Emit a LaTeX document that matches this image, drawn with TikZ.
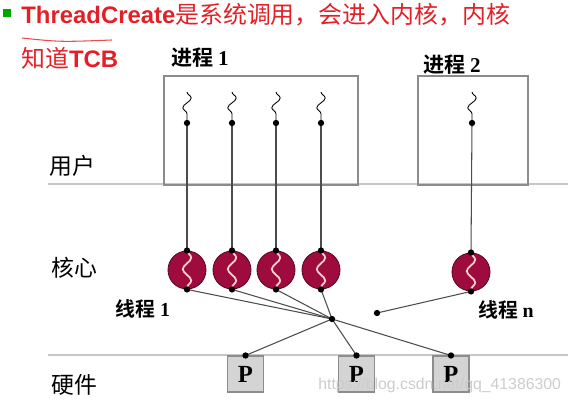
\documentclass[tikz,border=0pt]{standalone}
\usepackage{fontspec}
\setmainfont{Liberation Serif}
\newfontfamily\cjk{Noto Sans CJK SC}[BoldFont={Noto Sans CJK SC Bold}]
\newfontfamily\headfont{Liberation Sans}
\usetikzlibrary{decorations.pathmorphing}
\definecolor{kred}{RGB}{158,12,62}
\definecolor{titlered}{RGB}{226,32,38}

\begin{document}
\begin{tikzpicture}[x=0.02cm, y=-0.02cm,
    proc box/.style={draw=black!45, line width=0.7pt, minimum height=2.18cm, inner sep=0pt},
    kernel thread/.style={circle, draw=kred!60!black, line width=0.5pt, fill=kred, minimum size=0.76cm, inner sep=0pt},
    cpu box/.style={draw=black!45, fill=black!17, line width=0.6pt, minimum size=0.72cm, inner sep=0pt, font=\bfseries\fontsize{14}{14}\selectfont},
    link/.style={draw=black!70, line width=0.6pt},
    sep line/.style={draw=black!22, line width=1pt},
    squig/.style={decorate, decoration={snake, segment length=11pt, amplitude=2.4pt}, line width=0.5pt},
    inner squig/.style={decorate, decoration={snake, segment length=13pt, amplitude=2.4pt}, draw=pink!70, line width=1pt},
    layer/.style={font=\cjk\fontsize{13}{13}\selectfont, inner sep=0pt},
    name label/.style={font=\cjk\bfseries\fontsize{12}{12}\selectfont, inner sep=0pt}]
    \useasboundingbox (0,0) rectangle (568,405);

    % title
    \fill[green!65!black] (3,9) rectangle (11,17);
    \node[anchor=west, inner sep=0pt, text=titlered, font=\fontsize{13.6}{16}\selectfont] (title) at (21,15)
        {{\headfont\bfseries ThreadCreate}\cjk 是系统调用，会进入内核，内核};
    \node[anchor=west, inner sep=0pt, text=titlered, font=\fontsize{13.6}{16}\selectfont] (title2) at (21,58)
        {\cjk 知道{\headfont\bfseries TCB}};
    \draw[titlered!80, line width=0.6pt] (22,38) .. controls (60,42) .. (112,40);

    % layers
    \draw[sep line] (48,184) -- (568,184);
    \draw[sep line] (48,355) -- (568,355);
    \node[layer] (user) at (72,166) {用户};
    \node[layer] (kernel) at (74,268) {核心};
    \node[layer] (hw) at (74,385) {硬件};

    % processes
    \node[proc box, minimum width=3.88cm] (proc1) at (261,130.5) {};
    \node[proc box, minimum width=2.2cm] (proc2) at (473,130.5) {};
    \node[name label] (pname1) at (200,58) {进程 {\rmfamily 1}};
    \node[name label] (pname2) at (452,65) {进程 {\rmfamily 2}};

    % user threads
    \coordinate (u1) at (187,123);
    \coordinate (u2) at (232,123);
    \coordinate (u3) at (276,123);
    \coordinate (u4) at (321,123);
    \coordinate (u5) at (472,123);
    \draw[squig] (187,92) -- (u1);
    \draw[squig] (232,92) -- (u2);
    \draw[squig] (276,92) -- (u3);
    \draw[squig] (321,92) -- (u4);
    \draw[squig] (472,92) -- (u5);

    % kernel threads
    \node[kernel thread] (k1) at (187,270) {};
    \node[kernel thread] (k2) at (232,270) {};
    \node[kernel thread] (k3) at (276,270) {};
    \node[kernel thread] (k4) at (321,270) {};
    \node[kernel thread] (kn) at (471,272) {};
    \draw[inner squig] (k1.north) -- (k1.south);
    \draw[inner squig] (k2.north) -- (k2.south);
    \draw[inner squig] (k3.north) -- (k3.south);
    \draw[inner squig] (k4.north) -- (k4.south);
    \draw[inner squig] (kn.north) -- (kn.south);
    \node[name label, font=\cjk\bfseries\fontsize{11.3}{11.3}\selectfont] (t1) at (143,309) {线程 {\rmfamily 1}};
    \node[name label, font=\cjk\bfseries\fontsize{11.3}{11.3}\selectfont] (tn) at (506,310) {线程 {\rmfamily n}};

    \draw[link] (u1) -- (k1.north);
    \draw[link] (u2) -- (k2.north);
    \draw[link] (u3) -- (k3.north);
    \draw[link] (u4) -- (k4.north);
    \draw[link] (u5) -- (kn.north);

    % processors
    \node[cpu box] (c1) at (245.5,374) {P};
    \node[cpu box] (c2) at (356.5,374) {P};
    \node[cpu box] (c3) at (451,374) {P};

    \coordinate (hub) at (332,319);
    \coordinate (kn end) at (377,313);
    \draw[link] (k1.south) -- (hub);
    \draw[link] (k2.south) -- (hub);
    \draw[link] (k3.south) -- (hub);
    \draw[link] (k4.south) -- (hub);
    \draw[link] (hub) -- (c1.north);
    \draw[link] (hub) -- (c2.north);
    \draw[link] (hub) -- (c3.north);
    \draw[link] (kn.south) -- (kn end);

    \foreach \p in {u1,u2,u3,u4,u5,k1.north,k2.north,k3.north,k4.north,kn.north,
                    k1.south,k2.south,k3.south,k4.south,kn.south,hub,kn end,c1.north,c2.north,c3.north}
        \fill (\p) circle (1.8pt);

    \node[anchor=west, inner sep=0pt, text=black!20, font=\headfont\fontsize{9}{9}\selectfont] (mark) at (318,385)
        {https://blog.csdn.net/qq\_41386300};
\end{tikzpicture}
\end{document}
